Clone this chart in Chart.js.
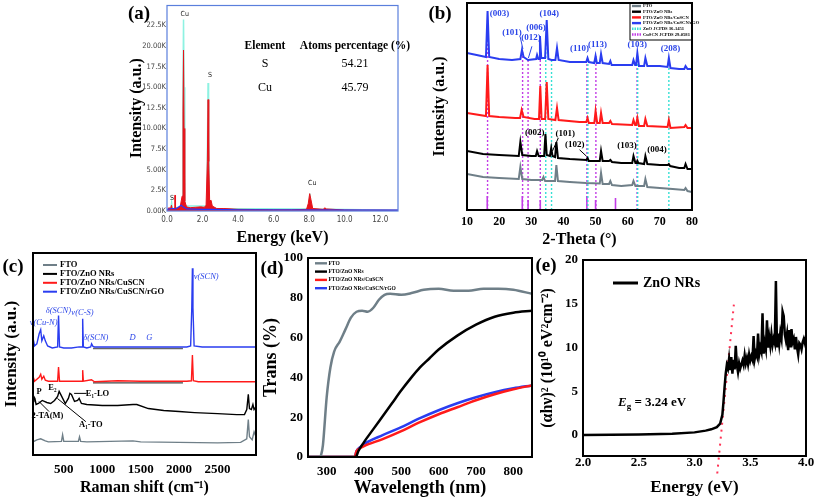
<!DOCTYPE html>
<html>
<head>
<meta charset="utf-8">
<script src="https://cdn.jsdelivr.net/npm/chart.js@4.4.0/dist/chart.umd.min.js"></script>
<style>
html,body{margin:0;padding:0;background:#fff;}
#fig{position:relative;width:815px;height:501px;overflow:hidden;font-family:'Liberation Serif','Times New Roman',serif;}
canvas{position:absolute;}
.lab{position:absolute;transform:translate(-50%,-50%);font-weight:bold;font-size:19px;white-space:nowrap;}
.tb{position:absolute;transform:translate(-50%,-50%);font-size:12px;white-space:nowrap;}
</style>
</head>
<body>
<div id="fig">
  <canvas id="chartA" width="310" height="250" style="left:100px;top:0px"></canvas>
  <canvas id="chartB" width="290" height="250" style="left:420px;top:0px"></canvas>
  <canvas id="chartC" width="262" height="256" style="left:0px;top:245px"></canvas>
  <canvas id="chartD" width="292" height="256" style="left:250px;top:245px"></canvas>
  <canvas id="chartE" width="285" height="256" style="left:530px;top:245px"></canvas>
  <div class="lab" style="left:139px;top:13px">(a)</div>
  <div class="lab" style="left:440px;top:13px">(b)</div>
  <div class="lab" style="left:13px;top:266px">(c)</div>
  <div class="lab" style="left:272px;top:268px">(d)</div>
  <div class="lab" style="left:546px;top:265px">(e)</div>
  <div id="table"></div>
</div>
<script>
// ---- (a) EDS spectrum ----
var edsElements = ['S', 'Cu'];
var edsAtomPct = ['54.21', '45.79'];
var edsYTicks = [0, 2500, 5000, 7500, 10000, 12500, 15000, 17500, 20000, 22500];
var edsYLabels = ['0.00K', '2.5K', '5.00K', '7.5K', '10.00K', '12.5K', '15.00K', '17.5K', '20.00K', '22.5K'];
var edsXTicks = [0, 2, 4, 6, 8, 10, 12];
var edsXLabels = ['0.0', '2.0', '4.0', '6.0', '8.0', '10.0', '12.0'];
var edsCyanKeV = [0, 0.22, 0.26, 0.3, 0.85, 0.9, 0.93, 0.96, 1.0, 2.25, 2.29, 2.31, 2.34, 2.38, 2.6, 7.98, 8.04, 8.1, 13];
var edsCyanCnt = [100, 300, 1000, 250, 600, 15000, 23200, 15000, 600, 600, 11000, 15500, 10000, 800, 300, 250, 2100, 250, 100];
var edsRedKeV = [0, 0.1, 0.2, 0.25, 0.3, 0.4, 0.44, 0.46, 0.48, 0.6, 0.75, 0.85, 0.9, 0.93, 0.96, 1.0, 1.1, 1.3, 1.6, 1.9, 2.1, 2.2, 2.27, 2.31, 2.35, 2.4, 2.48, 2.55, 2.8, 3.2, 4, 5, 6, 7, 7.85, 7.95, 8.03, 8.1, 8.2, 8.8, 8.88, 8.95, 10, 11, 12, 13];
var edsRedCnt = [0, 400, 300, 700, 200, 350, 1900, 1900, 350, 350, 600, 1800, 12000, 19500, 10000, 1200, 500, 400, 450, 500, 450, 700, 6000, 13500, 6000, 1200, 1300, 600, 300, 300, 200, 180, 150, 150, 200, 900, 2100, 1400, 300, 200, 400, 250, 120, 100, 100, 90];
var edsBlueKeV = [0, 0.3, 0.5, 0.8, 0.9, 1.1, 2, 2.5, 4, 13];
var edsBlueCnt = [200, 300, 250, 700, 500, 250, 200, 200, 150, 100];
var edsTagText = ['Cu', 'S', 'Cu', 'S'];
var edsTagX = [1.0, 2.42, 8.17, 0.28];
var edsTagY = [23800, 16400, 3350, 1600];

// ---- (b) XRD ----
var xrdTicks = [10, 20, 30, 40, 50, 60, 70, 80];
var xrdLabels = ['10', '20', '30', '40', '50', '60', '70', '80'];
var xrdFtoX = [10, 15, 20, 26.1, 26.6, 27.2, 30, 33.4, 33.8, 34.3, 37.4, 37.8, 38.3, 42, 47, 51.3, 51.7, 52.2, 54.2, 54.6, 55.1, 58, 61.4, 61.8, 62.4, 65.1, 65.5, 66.1, 70, 74, 77.6, 78, 78.6, 80];
var xrdFtoY = [36, 33, 32, 31, 43, 31, 30, 30, 33, 29, 29, 45, 29, 28, 27, 26.5, 37, 26, 26, 29, 25, 24, 25, 29, 24, 24, 31, 23, 22, 21, 20, 22, 19, 18];
var xrdZnoX = [10, 15, 20, 26.1, 26.6, 27.2, 30, 31.4, 31.8, 32.3, 34.0, 34.4, 34.8, 35.8, 36.2, 36.6, 37.4, 37.8, 38.3, 42, 47.1, 47.5, 47.9, 51.3, 51.7, 52.2, 54.2, 54.6, 55.1, 58, 61.4, 61.8, 62.4, 62.8, 63.0, 63.3, 65.1, 65.5, 66.1, 70, 72.5, 72.8, 73.2, 76, 77.6, 78, 78.6, 80];
var xrdZnoY = [59, 56, 55, 54, 68, 55, 54, 54, 59, 54, 54, 76, 55, 54, 62, 54, 53, 68, 52, 51, 50, 52, 49, 49, 59, 49, 49, 50, 48, 47, 47, 54, 47, 47, 49, 47, 46, 54, 46, 45, 45, 46, 44, 42, 42, 46, 41, 41];
var xrdCuscnX = [10, 15.9, 16.4, 16.9, 20, 25, 26.5, 27, 27.6, 31, 32.4, 32.8, 33.2, 34.3, 34.8, 35.3, 37.5, 38, 38.5, 45, 47.1, 47.5, 47.9, 49.6, 50, 50.5, 51.3, 51.7, 52.2, 54.2, 54.6, 55.1, 61.4, 61.8, 62.3, 62.6, 63, 63.5, 65.1, 65.5, 66.1, 72.4, 72.8, 73.3, 77.6, 78, 78.6, 80];
var xrdCuscnY = [97, 94, 145, 94, 93, 92, 92, 100, 93, 91, 91, 124, 91, 91, 128, 91, 90, 102, 90, 88, 88, 92, 87, 87, 99, 87, 87, 97, 87, 87, 89, 86, 85, 90, 85, 85, 92, 84, 84, 91, 84, 83, 90, 82, 83, 85, 82, 82];
var xrdRgoX = [10, 13, 15.9, 16.4, 16.9, 20, 24, 26.6, 27.1, 27.6, 29, 31.5, 31.8, 32.2, 32.4, 32.7, 33.1, 34.3, 34.8, 35.3, 36.3, 37.5, 38, 38.5, 42, 47.1, 47.5, 47.9, 49.6, 50, 50.4, 51.3, 51.7, 52.2, 54.2, 54.6, 55, 58, 61.4, 61.8, 62.3, 62.6, 63, 63.5, 65.1, 65.5, 66.1, 70, 72.4, 72.8, 73.3, 76, 77.6, 78, 78.6, 80];
var xrdRgoY = [157, 155, 153, 199, 153, 151, 150, 151, 160, 153, 150, 151, 155, 151, 151, 174, 152, 152, 190, 151, 150, 150, 162, 150, 148, 148, 152, 148, 147, 154, 147, 147, 156, 147, 146, 149, 145, 145, 145, 150, 145, 145, 157, 144, 144, 152, 144, 144, 143, 152, 142, 141, 141, 144, 141, 141];
var cuscnRefX = [16.4, 27.3, 29.0, 32.8, 47.3, 50.1, 62.9];
var cuscnRefTop = [192, 160, 152, 172, 152, 154, 152];
var znoRefX = [34.5, 36.3, 47.6, 63.1, 72.8];
var znoRefTop = [176, 150, 150, 155, 152];
var cuscnStickX = [16.3, 27.2, 29.0, 32.8, 47.3, 50.0, 56.2];
var cuscnStickH = [14, 14, 10, 10, 14, 10, 12];
var xrdTagText = ['(003)', '(101)', '(012)', '(006)', '(104)', '(110)', '(113)', '(103)', '(208)'];
var xrdTagX = [20.1, 24.0, 29.9, 31.5, 35.6, 45.0, 50.6, 63.0, 73.3];
var xrdTagY = [196, 177, 172, 182, 196, 161, 165, 165, 161];
var znoTagText = ['(002)', '(101)', '(102)', '(103)', '(004)'];
var znoTagX = [31.1, 40.6, 43.5, 59.8, 69.1];
var znoTagY = [77, 76, 65, 64, 60];

// ---- (c) Raman ----
var ramanTicks = [500, 1000, 1500, 2000, 2500];
var ramanLabels = ['500', '1000', '1500', '2000', '2500'];
var ramanFtoX = [100, 150, 200, 260, 300, 470, 485, 500, 690, 705, 720, 800, 1100, 1400, 1500, 2000, 2500, 2800, 2880, 2900, 2915, 2950, 2975, 3000];
var ramanFtoY = [13, 15, 16, 14, 13, 13.5, 20, 13.5, 13.5, 18, 13.5, 13, 13.5, 14, 13, 12.5, 12, 12.5, 16, 35, 18, 15, 23, 18];
var ramanZnoX = [100, 110, 125, 140, 170, 220, 280, 330, 380, 420, 440, 460, 520, 560, 580, 600, 640, 680, 700, 730, 800, 1000, 1200, 1400, 1450, 1600, 1800, 2000, 2200, 2500, 2750, 2850, 2880, 2900, 2915, 2940, 2960, 2975, 3000];
var ramanZnoY = [53, 58, 56, 50, 51, 54, 52, 51, 54, 58, 63, 60, 51, 56, 61, 60, 53, 54, 56, 51, 50, 49, 49, 50, 50, 46, 44, 43, 42, 41, 40, 40, 45, 60, 46, 45, 50, 45, 48];
var ramanCuscnX = [100, 120, 180, 200, 215, 240, 260, 300, 420, 432, 445, 738, 746, 755, 860, 900, 1200, 1500, 2100, 2160, 2173, 2185, 2250, 3000];
var ramanCuscnY = [78, 73, 77, 80, 75, 78, 74, 73, 73, 87, 73, 73, 84, 73, 74.5, 72.5, 73.5, 73, 73, 73.5, 99, 73.5, 72.5, 72.5];
var ramanRgoX = [100, 120, 150, 180, 200, 215, 240, 260, 290, 350, 420, 432, 445, 500, 600, 700, 738, 746, 755, 800, 850, 862, 880, 900, 1500, 2100, 2150, 2165, 2173, 2180, 2195, 2300, 3000];
var ramanRgoY = [116, 108, 110, 120, 124, 113, 118, 113, 108, 106, 107, 138, 107, 106, 106, 107, 107, 135, 107, 106, 107, 110, 107.5, 107, 107, 107, 108, 146, 185, 146, 108, 107, 107];
var rgoBandX = [880, 2050];
var rgoBandY = [105.5, 105.5];
var cuscnBandY = [71.5, 71.5];
var ramanTagText = ['ν(Cu-N)', 'δ(SCN)', 'ν(C-S)', 'δ(SCN)', 'D', 'G', 'ν(SCN)'];
var ramanTagX = [239, 430, 743, 917, 1396, 1613, 2352];
var ramanTagY = [131, 143, 141, 116, 116, 116, 176];
var modeTagText = ['P', 'E₂', 'E₁-LO', '2-TA(M)', 'A₁-TO'];
var modeTagX = [178, 352, 939, 287, 852];
var modeTagY = [63, 67, 61, 39, 30];

// ---- (d) transmittance ----
var wlTicks = [300, 400, 500, 600, 700, 800];
var wlLabels = ['300', '400', '500', '600', '700', '800'];
var transTicks = [0, 20, 40, 60, 80, 100];
var transLabels = ['0', '20', '40', '60', '80', '100'];
var transFtoX = [250, 280, 285, 290, 300, 310, 320, 335, 350, 365, 380, 395, 410, 425, 440, 455, 470, 500, 530, 560, 600, 640, 680, 720, 760, 800, 850];
var transFtoY = [0, 0, 1, 6, 30, 45, 53, 58, 64, 70, 73, 73.5, 73, 75, 79, 81.5, 82, 81.5, 82.5, 84, 84.5, 83.5, 83.5, 84.5, 84.5, 84, 82];
var transZnoX = [250, 378, 385, 400, 425, 450, 475, 500, 525, 550, 575, 600, 650, 700, 750, 800, 850];
var transZnoY = [0, 0, 3, 7.5, 14, 20.5, 27, 33.5, 39.5, 45, 49.5, 54, 61, 66.5, 70.5, 72.5, 73.5];
var transCuscnX = [250, 375, 380, 390, 400, 450, 500, 550, 600, 650, 700, 750, 800, 850];
var transCuscnY = [0, 0, 3, 4.5, 5.5, 9, 13, 17.5, 21.5, 25, 28.5, 31.5, 34, 36];
var transRgoX = [250, 375, 380, 390, 400, 450, 500, 550, 600, 650, 700, 750, 800, 850];
var transRgoY = [0, 0, 3, 5, 6.5, 11, 15, 19.5, 23.5, 27, 30, 32.5, 34.5, 36];

// ---- (e) Tauc plot ----
var eTicks = [2.0, 2.5, 3.0, 3.5, 4.0];
var eLabels = ['2.0', '2.5', '3.0', '3.5', '4.0'];
var taucTicks = [0, 5, 10, 15, 20];
var taucLabels = ['0', '5', '10', '15', '20'];
var taucX = [2.0, 2.5, 2.8, 3.0, 3.1, 3.15, 3.2, 3.23, 3.25, 3.26, 3.27, 3.28, 3.29, 3.30, 3.31, 3.32, 3.33, 3.34, 3.35, 3.36, 3.37, 3.38, 3.39, 3.40, 3.41, 3.43, 3.44, 3.45, 3.46, 3.47, 3.48, 3.49, 3.50, 3.51, 3.52, 3.53, 3.54, 3.55, 3.56, 3.57, 3.58, 3.59, 3.60, 3.61, 3.62, 3.63, 3.64, 3.65, 3.66, 3.67, 3.68, 3.69, 3.70, 3.71, 3.72, 3.73, 3.74, 3.75, 3.76, 3.77, 3.78, 3.79, 3.80, 3.81, 3.82, 3.83, 3.84, 3.85, 3.86, 3.87, 3.88, 3.89, 3.90, 3.91, 3.92, 3.93, 3.94, 3.95, 3.96, 3.97, 3.98, 3.99, 4.00];
var taucY = [0, 0.05, 0.15, 0.3, 0.5, 0.65, 0.9, 1.3, 2.3, 3.8, 5.5, 7.0, 8.0, 7.6, 8.7, 7.4, 8.9, 7.0, 8.6, 7.5, 10.2, 8.0, 7.2, 8.2, 7.6, 8.5, 8.0, 9.1, 8.2, 8.8, 8.1, 9.2, 8.5, 9.0, 8.6, 11.3, 8.7, 9.4, 9.0, 11.6, 9.2, 10.0, 9.5, 13.9, 9.3, 10.5, 9.8, 13.1, 10.0, 11.2, 10.2, 11.5, 10.3, 11.0, 10.5, 17.6, 10.0, 11.6, 10.4, 11.7, 11.0, 14.1, 13.6, 11.5, 10.8, 11.6, 9.7, 12.0, 10.0, 12.1, 10.6, 11.0, 9.8, 11.2, 10.0, 9.2, 10.5, 10.3, 9.8, 10.6, 11.0, 10.5, 11.2];
var egLineX = [3.204, 3.353];
var egLineY = [-4.4, 14.9];

// ---------------------------------------------------------------
var SERIF = "'Liberation Serif', 'Times New Roman', serif";
var NARROW = "'Liberation Sans Narrow', 'DejaVu Sans Condensed', 'Liberation Sans', sans-serif";
Chart.defaults.font.family = SERIF;
Chart.defaults.color = '#000';
Chart.defaults.animation = false;
Chart.defaults.plugins.legend.display = false;
Chart.defaults.plugins.tooltip.enabled = false;

function zip(xs, ys) {
  return xs.map(function (x, i) { return {x: x, y: ys[i]}; });
}
// vertical segments from a base to each height, broken by gaps
function sticks(xs, base, tops) {
  var d = [];
  xs.forEach(function (x, i) {
    d.push({x: x, y: base}, {x: x, y: tops[i]}, {x: x, y: null});
  });
  return d;
}
function line(label, data, color, width, extra) {
  return Object.assign({
    label: label, data: data, borderColor: color, backgroundColor: color,
    borderWidth: width, pointRadius: 0, fill: false, tension: 0
  }, extra || {});
}
function tags(text, xs, ys, extra) {
  return text.map(function (t, i) { return Object.assign({text: t, x: xs[i], y: ys[i]}, extra || {}); });
}

var framePlugin = {
  id: 'frame',
  afterDraw: function (chart, args, o) {
    var a = chart.chartArea, ctx = chart.ctx;
    ctx.save();
    ctx.strokeStyle = o.color || '#000';
    ctx.lineWidth = o.width || 2;
    ctx.strokeRect(a.left, a.top, a.right - a.left, a.bottom - a.top);
    ctx.restore();
  }
};
var keyPlugin = {
  id: 'key',
  afterDraw: function (chart, args, o) {
    if (!o.show) return;
    var ctx = chart.ctx, a = chart.chartArea;
    var x0 = a.left + o.x, y = a.top + o.y;
    ctx.save();
    if (o.box) {
      ctx.strokeStyle = '#000'; ctx.lineWidth = 1;
      ctx.strokeRect(x0 - o.box[0], y - o.box[1], o.box[2], o.box[3]);
    }
    ctx.font = o.font;
    ctx.textBaseline = 'middle';
    ctx.textAlign = 'left';
    ctx.fillStyle = '#000';
    chart.data.datasets.forEach(function (ds) {
      if (!ds.label) return;
      ctx.beginPath();
      ctx.setLineDash(ds.borderDash ? o.dash : []);
      ctx.strokeStyle = ds.borderColor;
      ctx.lineWidth = o.lineWidth;
      ctx.moveTo(x0, y);
      ctx.lineTo(x0 + o.len, y);
      ctx.stroke();
      ctx.fillText(ds.label, x0 + o.len + o.gap, y);
      y += o.step;
    });
    ctx.restore();
  }
};
var notesPlugin = {
  id: 'notes',
  afterDatasetsDraw: function (chart, args, o) {
    if (!o.items) return;
    var ctx = chart.ctx, sx = chart.scales.x, sy = chart.scales.y;
    ctx.save();
    (o.segs || []).forEach(function (s) {
      ctx.beginPath();
      ctx.strokeStyle = s[4] || '#000';
      ctx.lineWidth = 1;
      ctx.moveTo(sx.getPixelForValue(s[0]), sy.getPixelForValue(s[1]));
      ctx.lineTo(sx.getPixelForValue(s[2]), sy.getPixelForValue(s[3]));
      ctx.stroke();
    });
    ctx.textBaseline = 'middle';
    o.items.forEach(function (n) {
      var px = sx.getPixelForValue(n.x), py = sy.getPixelForValue(n.y);
      ctx.fillStyle = n.color || o.color || '#000';
      if (n.parts) {
        ctx.textAlign = 'left';
        n.parts.forEach(function (p) {
          ctx.font = p.font;
          ctx.fillText(p.t, px, py + (p.dy || 0));
          px += ctx.measureText(p.t).width;
        });
        return;
      }
      ctx.font = n.font || o.font;
      ctx.textAlign = n.align || 'center';
      ctx.fillText(n.text, px, py);
    });
    ctx.restore();
  }
};
Chart.register(framePlugin, keyPlugin, notesPlugin);

function axis(o) {
  var s = {
    type: 'linear', min: o.min, max: o.max,
    afterFit: function (sc) { if (o.horiz) sc.height = o.size; else sc.width = o.size; },
    grid: {display: false, drawTicks: false},
    border: {display: false},
    ticks: {
      display: !!o.labels, padding: o.pad || 0, font: o.font, color: o.color || '#000',
      autoSkip: false, maxRotation: 0,
      callback: function (v, i) { return o.labels ? o.labels[i] : ''; }
    },
    title: {
      display: !!o.title, text: o.title, font: o.titleFont, color: '#000',
      padding: o.horiz ? {top: 0, bottom: o.titlePad} : {top: o.titlePad, bottom: 0}
    }
  };
  if (o.at) s.afterBuildTicks = function (sc) { sc.ticks = o.at.map(function (v) { return {value: v}; }); };
  return s;
}
function draw(id, datasets, x, y, pad, plugins) {
  x.horiz = true;
  return new Chart(document.getElementById(id), {
    type: 'line',
    data: {datasets: datasets},
    options: {
      responsive: false, devicePixelRatio: 1,
      layout: {padding: {left: 0, bottom: 0, top: pad[0], right: pad[1]}},
      scales: {x: axis(x), y: axis(y)},
      plugins: plugins
    }
  });
}
function bold(size) { return {family: SERIF, size: size, weight: 'bold'}; }

// (a)
draw('chartA', [
  line('', zip(edsBlueKeV, edsBlueCnt), '#2636ff', 1.2),
  line('', zip(edsRedKeV, edsRedCnt), '#e8141c', 1, {fill: 'origin', backgroundColor: '#e8141c'}),
  line('', zip(edsCyanKeV, edsCyanCnt), '#8ef2e2', 1.5)
], {
  min: 0, max: 13, at: edsXTicks, labels: edsXLabels, size: 39, pad: 4,
  font: {family: NARROW, size: 8}, color: '#444',
  title: 'Energy (keV)', titleFont: bold(16), titlePad: 2.4
}, {
  min: 0, max: 24900, at: edsYTicks, labels: edsYLabels, size: 67, pad: 1,
  font: {family: NARROW, size: 7.5}, color: '#444',
  title: 'Intensity (a.u.)', titleFont: bold(16), titlePad: 27
}, [3, 12], {
  frame: {color: '#5a7fdc', width: 1.2},
  notes: {items: tags(edsTagText, edsTagX, edsTagY), font: '7px ' + NARROW, color: '#222'}
});

var tbl = document.getElementById('table');
function cell(text, x, y, b) {
  var d = document.createElement('div');
  d.className = 'tb';
  d.style.left = x + 'px'; d.style.top = y + 'px';
  if (b) { d.style.fontWeight = 'bold'; d.style.fontSize = '11.5px'; }
  d.textContent = text;
  tbl.appendChild(d);
}
cell('Element', 265, 45, true);
cell('Atoms percentage (%)', 355, 45, true);
edsElements.forEach(function (el, i) {
  cell(el, 265, 63 + i * 24);
  cell(edsAtomPct[i], 355, 63 + i * 24);
});

// (b)
draw('chartB', [
  line('FTO', zip(xrdFtoX, xrdFtoY), '#6f7f88', 2),
  line('FTO/ZnO NRs', zip(xrdZnoX, xrdZnoY), '#000000', 2),
  line('FTO/ZnO NRs/CuSCN', zip(xrdCuscnX, xrdCuscnY), '#ff1a1a', 2),
  line('FTO/ZnO NRs/CuSCN/rGO', zip(xrdRgoX, xrdRgoY), '#2a3df0', 2),
  line('ZnO JCPDS 36-1451', sticks(znoRefX, 0, znoRefTop), '#35e0d5', 1.4, {borderDash: [2, 2]}),
  line('CuSCN JCPDS 29-0581', sticks(cuscnRefX, 0, cuscnRefTop), '#c23ce6', 1.4, {borderDash: [2, 2]}),
  line('', sticks(cuscnStickX, 0, cuscnStickH), '#c23ce6', 1.6)
], {
  min: 10, max: 80, at: xrdTicks, labels: xrdLabels, size: 40, pad: 5, font: bold(12),
  title: '2-Theta (°)', titleFont: bold(16), titlePad: 0.5
}, {
  min: 0, max: 207, size: 47,
  title: 'Intensity (a.u.)', titleFont: bold(16), titlePad: 10.4
}, [3, 18], {
  frame: {width: 2},
  key: {show: true, x: 165, y: 3, step: 5.7, len: 9, gap: 2, lineWidth: 2.4, dash: [1.5, 1],
        font: 'bold 4.6px ' + SERIF, box: [2, 3, 62, 37]},
  notes: {
    items: tags(xrdTagText, xrdTagX, xrdTagY, {color: '#2b45e8'}).concat(tags(znoTagText, znoTagX, znoTagY)),
    font: 'bold 9px ' + SERIF,
    segs: [[26.5, 173.7, 27.4, 161, '#2b45e8'], [30.2, 163.7, 29.1, 152, '#2b45e8'],
           [38.4, 72, 36.6, 59], [45, 60.3, 47.2, 53.7]]
  }
});

// (c)
draw('chartC', [
  line('FTO', zip(ramanFtoX, ramanFtoY), '#6f7f88', 1.4),
  line('FTO/ZnO NRs', zip(ramanZnoX, ramanZnoY), '#000000', 1.4),
  line('FTO/ZnO NRs/CuSCN', zip(ramanCuscnX, ramanCuscnY), '#ff1a1a', 1.4),
  line('FTO/ZnO NRs/CuSCN/rGO', zip(ramanRgoX, ramanRgoY), '#2a3df0', 1.4),
  line('', zip(rgoBandX, rgoBandY), '#666666', 1.6),
  line('', zip(rgoBandX, cuscnBandY), '#444444', 1.2)
], {
  min: 100, max: 3000, at: ramanTicks, labels: ramanLabels, size: 46, pad: 7, font: bold(13),
  title: 'Raman shift (cm⁻¹)', titleFont: bold(16), titlePad: 3.4
}, {
  min: 0, max: 200, size: 33,
  title: 'Intensity (a.u.)', titleFont: bold(17), titlePad: 1.8
}, [8, 6], {
  frame: {width: 2},
  key: {show: true, x: 10, y: 12, step: 8.9, len: 14, gap: 3, lineWidth: 2, dash: [],
        font: 'bold 8.5px ' + SERIF},
  notes: {
    items: tags(ramanTagText, ramanTagX, ramanTagY, {color: '#2b45e8', font: 'italic 8.5px ' + SERIF})
      .concat(tags(modeTagText, modeTagX, modeTagY)),
    font: 'bold 8.5px ' + SERIF,
    segs: [[309, 43, 178, 53], [787, 33, 417, 56], [796, 61, 635, 61]]
  }
});

// (d)
draw('chartD', [
  line('FTO', zip(transFtoX, transFtoY), '#6f7f88', 2.5, {cubicInterpolationMode: 'monotone'}),
  line('FTO/ZnO NRs', zip(transZnoX, transZnoY), '#000000', 2.5, {cubicInterpolationMode: 'monotone'}),
  line('FTO/ZnO NRs/CuSCN', zip(transCuscnX, transCuscnY), '#ff1a1a', 2.5, {cubicInterpolationMode: 'monotone'}),
  line('FTO/ZnO NRs/CuSCN/rGO', zip(transRgoX, transRgoY), '#2a3df0', 2.5, {cubicInterpolationMode: 'monotone'})
], {
  min: 250, max: 850, at: wlTicks, labels: wlLabels, size: 44, pad: 7, font: bold(13),
  title: 'Wavelength (nm)', titleFont: bold(18), titlePad: 2.2
}, {
  min: 0, max: 100, at: transTicks, labels: transLabels, size: 58, pad: 5, font: bold(13),
  title: 'Trans (%)', titleFont: bold(18), titlePad: 10.2
}, [13, 10], {
  frame: {width: 2},
  key: {show: true, x: 7, y: 5.3, step: 8.3, len: 12, gap: 1.5, lineWidth: 2.4, dash: [],
        font: 'bold 5.5px ' + SERIF}
});

// (e)
draw('chartE', [
  line('ZnO NRs', zip(taucX, taucY), '#000000', 2.5),
  line('', zip(egLineX, egLineY), '#ff3355', 2, {borderDash: [2, 5], clip: false})
], {
  min: 2, max: 4, at: eTicks, labels: eLabels, size: 45, pad: -1, font: bold(13),
  title: 'Energy (eV)', titleFont: bold(17), titlePad: 3.4
}, {
  min: -2.4, max: 20, at: taucTicks, labels: taucLabels, size: 53, pad: 5, font: bold(13),
  title: '(αhν)² (10¹⁰ eV²cm⁻²)', titleFont: bold(16), titlePad: 8
}, [15, 9], {
  frame: {width: 2},
  key: {show: true, x: 30, y: 23, step: 0, len: 25, gap: 5, lineWidth: 3, dash: [],
        font: 'bold 14px ' + SERIF},
  notes: {
    items: [{x: 2.314, y: 3.66, parts: [
      {t: 'E', font: 'italic bold 13px ' + SERIF},
      {t: 'g', font: 'bold 9px ' + SERIF, dy: 4},
      {t: ' = 3.24 eV', font: 'bold 13px ' + SERIF}
    ]}]
  }
});
</script>
</body>
</html>
